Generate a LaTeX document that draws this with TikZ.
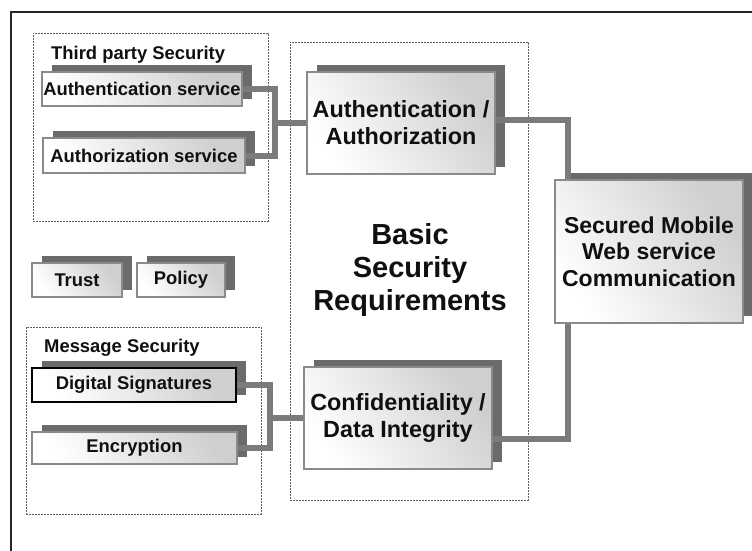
\documentclass[tikz,border=0pt]{standalone}
\usepackage{fontspec}
\setmainfont{Liberation Sans}
\usetikzlibrary{shadows}
\definecolor{shadowgray}{HTML}{6B6B6B}
\definecolor{boxline}{HTML}{8A8A8A}
\definecolor{connline}{HTML}{7B7B7B}
\definecolor{dashline}{HTML}{606060}
\definecolor{txt}{HTML}{101010}
\begin{document}
\begin{tikzpicture}[x=1pt,y=-1pt,
  fbox/.style={draw=boxline, line width=1.8pt, top color=black!19, bottom color=white, shading angle=-55,
    general shadow={fill=shadowgray, shadow xshift=10pt, shadow yshift=7pt},
    inner sep=0pt, align=center, text=txt},
  small/.style={font=\fontsize{18.4}{21}\selectfont\bfseries},
  mid/.style={font=\fontsize{23.4}{27}\selectfont\bfseries},
  dbox/.style={draw=dashline, line width=0.9pt, dash pattern=on 2pt off 1pt, inner sep=0pt},
  conn/.style={draw=connline, line width=6pt, line join=miter},
  lbl/.style={inner sep=0pt, text=txt}]
\useasboundingbox (0,0) rectangle (752,551);
\fill[white] (0,0) rectangle (752,551);
% outer frame
\draw[black!85, line width=2.5pt] (11,551) -- (11,12) -- (752,12);
% dashed containers
\node[dbox, minimum width=235pt, minimum height=188pt] (tpbox) at (150.5,127) {};
\node[dbox, minimum width=238pt, minimum height=458pt] (bsbox) at (409,271) {};
\node[dbox, minimum width=235pt, minimum height=187pt] (msbox) at (143.5,420.5) {};
% titles
\node[lbl, small, anchor=west] (tptitle) at (51,55) {Third party Security};
\node[lbl, small, anchor=west] (mstitle) at (44,348) {Message Security};
\node[lbl, align=center, font=\fontsize{29}{33}\selectfont\bfseries] (bsr) at (410,270) {Basic\\Security\\Requirements};
% boxes
\node[fbox, small, minimum width=200pt, minimum height=34pt] (as1) at (142,89) {Authentication service};
\node[fbox, small, minimum width=202pt, minimum height=35pt] (az1) at (144,155.5) {Authorization service};
\node[fbox, small, minimum width=90pt, minimum height=34pt] (trust) at (77,280) {Trust};
\node[fbox, small, minimum width=88pt, minimum height=34pt] (policy) at (181,280) {Policy};
\node[fbox, small, minimum width=204pt, minimum height=34pt, draw=black, line width=2.2pt] (ds) at (134,385) {Digital Signatures};
\node[fbox, small, minimum width=205pt, minimum height=32pt] (enc) at (134.5,448) {Encryption};
\node[fbox, mid, minimum width=188pt, minimum height=102pt] (aa) at (401,123) {Authentication /\\Authorization};
\node[fbox, mid, minimum width=188pt, minimum height=102pt] (ci) at (398,418) {Confidentiality /\\Data Integrity};
\node[fbox, font=\fontsize{23}{26.5}\selectfont\bfseries, minimum width=188pt, minimum height=143pt] (smc) at (649,251.5) {Secured Mobile\\Web service\\Communication};
% junction coordinates
\coordinate (j1) at (275,123);
\coordinate (j2) at (270,418);
\coordinate (k1) at ([xshift=14pt]smc.north west);
\coordinate (k2) at ([xshift=14pt]smc.south west);
% connectors
\draw[conn] (as1.east) -| (j1) |- (az1.east);
\draw[conn] (j1) -- (aa.west);
\draw[conn] ([yshift=3pt]aa.east) -| (k1);
\draw[conn] (ds.east) -| (j2) |- (enc.east);
\draw[conn] (j2) -- (ci.west);
\draw[conn] ([yshift=-21pt]ci.east) -| (k2);
\end{tikzpicture}
\end{document}
